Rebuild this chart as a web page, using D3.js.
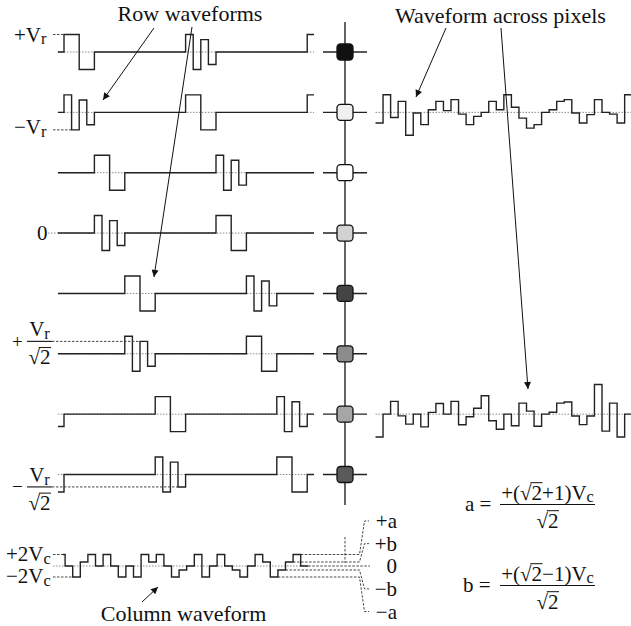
<!DOCTYPE html>
<html>
<head>
<meta charset="utf-8">
<script src="https://cdn.jsdelivr.net/npm/d3@7"></script>
<style>
  body { margin: 0; background: #fff; }
  svg, svg text, svg tspan { font-family: "Liberation Serif", "Times New Roman", Times, "DejaVu Serif", serif; }
  svg text { fill: #111; }
</style>
</head>
<body>
<div id="chart-area"></div>
<script>
/* data */
const h = 0.71; // Vr / sqrt(2)

// row drive levels (units of Vr): tail of previous frame, 32 sub-slots, first sub-slot of next frame
const rowWaves = [
  [0,  1, 1, -1, -1,  0, 0, 0, 0,  0, 0, 0, 0,  0, 0, 0, 0,  1, -1, h, -h,  0, 0, 0, 0,  0, 0, 0, 0,  0, 0, 0, 0,  1],
  [0,  1, -1, h, -h,  0, 0, 0, 0,  0, 0, 0, 0,  0, 0, 0, 0,  1, 1, -1, -1,  0, 0, 0, 0,  0, 0, 0, 0,  0, 0, 0, 0,  1],
  [0,  0, 0, 0, 0,  1, 1, -1, -1,  0, 0, 0, 0,  0, 0, 0, 0,  0, 0, 0, 0,  1, -1, h, -h,  0, 0, 0, 0,  0, 0, 0, 0,  0],
  [0,  0, 0, 0, 0,  1, -1, h, -h,  0, 0, 0, 0,  0, 0, 0, 0,  0, 0, 0, 0,  1, 1, -1, -1,  0, 0, 0, 0,  0, 0, 0, 0,  0],
  [0,  0, 0, 0, 0,  0, 0, 0, 0,  1, 1, -1, -1,  0, 0, 0, 0,  0, 0, 0, 0,  0, 0, 0, 0,  1, -1, h, -h,  0, 0, 0, 0,  0],
  [0,  0, 0, 0, 0,  0, 0, 0, 0,  1, -1, h, -h,  0, 0, 0, 0,  0, 0, 0, 0,  0, 0, 0, 0,  1, 1, -1, -1,  0, 0, 0, 0,  0],
  [-h, 0, 0, 0, 0,  0, 0, 0, 0,  0, 0, 0, 0,  1, 1, -1, -1,  0, 0, 0, 0,  0, 0, 0, 0,  0, 0, 0, 0,  1, -1, h, -h,  0],
  [-1, 0, 0, 0, 0,  0, 0, 0, 0,  0, 0, 0, 0,  1, -1, h, -h,  0, 0, 0, 0,  0, 0, 0, 0,  0, 0, 0, 0,  1, 1, -1, -1,  0]
];

// grey level of each pixel on the column
const pixelShades = ["#111111", "#f0f0f0", "#ffffff", "#d2d2d2", "#444444", "#8c8c8c", "#a6a6a6", "#5a5a5a"];

// waveform across pixels, one value per sub-slot (units of Vr)
const acrossTop = [-0.61, 1.01, -0.29, 0.63, -1.31, -0.04, -0.70, 0.15, 0.63, 0.10, 0.73, -0.10, -0.70, -0.23, 0, 0.63, 0.15,
  1.01, 0.29, -0.33, -0.90, -0.70, 0, 0.15, 0.63, 0.73, -0.04, -0.61, -0.13, 0.73, 0, -0.10, -0.61, 1.01];
const acrossBottom = [-1.31, 0, 0.73, -0.10, -0.57, 0, -0.73, 0.10, 0.61, 0, 0.73, -0.61, -0.15, 0.34, 1.05, -0.38, -0.86,
  0, -0.66, 0.63, 0.17, -0.69, 0, 0.11, 0.63, 0.69, -0.11, -0.60, -0.11, 1.69, -0.97, 0.63, -1.31, 0];

// column waveform (units of Vc)
const A = 1.707, B = 0.293;
const colSteps = [A, 0, -A, B, A, 0, A, 0, -A, 0, -A, A, B, A, 0, -A, -B,
  0, A, -A, 0, A, 0, -B, -A, 0, A, B, -A, -B, B, A, 0];
const colLevels = [A, B, 0, -B, -A];
const colLabels = ["+a", "+b", "0", "\u2212b", "\u2212a"];

/* layout */
const width = 631, height = 626;
const FONT = '"Liberation Serif", "Times New Roman", Times, "DejaVu Serif", serif';
const ROW_X0 = -0.8, ROW_X1 = 32.9;
const COL_X = 345;
const COL_START = 63;
const DOT = "1.5 1.5", DASH = "2.5 1.5";

const svg = d3.select("#chart-area").append("svg")
    .attr("width", width)
    .attr("height", height)
    .attr("font-family", FONT)
    .style("font-family", FONT);

svg.append("defs").append("marker")
    .attr("id", "arrow")
    .attr("viewBox", "0 0 10 10")
    .attr("refX", 10).attr("refY", 5)
    .attr("markerWidth", 10).attr("markerHeight", 7)
    .attr("markerUnits", "userSpaceOnUse")
    .attr("orient", "auto")
    .append("path")
    .attr("d", "M0,0 L10,5 L0,10 z")
    .attr("fill", "#111");

// scales
const xRow = d3.scaleLinear().domain([0, 32]).range([64, 307.2]);
const yRow = d3.scaleLinear().domain([0, 7]).range([52, 474.5]);
const vRow = d3.scaleLinear().domain([-1, 1]).range([17.5, -17.5]);
const xAcross = d3.scaleLinear().domain([0, 34]).range([375.5, 632.2]);
const xCol = d3.scaleLinear().domain([0, 33]).range([57.5, 308.3]);
const COL_Y = 566;
const vCol = d3.scaleLinear().domain([-A, -B, 0, B, A]).range([11, 4, 0, -4, -11.5]);
const yLabel = d3.scalePoint().domain(colLabels).range([521, 611.5]);

const step = d3.line().x(d => d[0]).y(d => d[1]).curve(d3.curveStepAfter);

function dotted(x1, x2, y) {
    svg.append("line")
        .attr("x1", x1).attr("x2", x2).attr("y1", y).attr("y2", y)
        .attr("stroke", "#8a8a8a").attr("stroke-width", 1)
        .attr("stroke-dasharray", DOT);
}

function dashed(pts) {
    svg.append("path")
        .attr("d", d3.line()(pts))
        .attr("fill", "none")
        .attr("stroke", "#333").attr("stroke-width", 0.9)
        .attr("stroke-dasharray", DASH);
}

function wave(pts) {
    svg.append("path")
        .attr("d", step(pts))
        .attr("fill", "none")
        .attr("stroke", "#222").attr("stroke-width", 1.4);
}

// text with subscripts and radicals
function mtext(x, y, segs, size, anchor) {
    const t = svg.append("text")
        .attr("x", x).attr("y", y)
        .attr("font-family", FONT)
        .attr("font-size", size)
        .attr("text-anchor", anchor || "start");
    let shifted = false, pos = 0;
    const rads = [];
    segs.forEach(s => {
        const sp = t.append("tspan").text(s.t);
        if (s.sub) {
            sp.attr("font-size", size * 0.78).attr("dy", size * 0.14);
            shifted = true;
        } else if (shifted) {
            sp.attr("dy", -size * 0.14);
            shifted = false;
        }
        if (s.rad) rads.push(pos);
        pos += s.t.length;
    });
    const node = t.node();
    rads.forEach(i => {
        const r = node.getExtentOfChar(i);
        const d = node.getExtentOfChar(i + 1);
        svg.append("line")
            .attr("x1", r.x + r.width - 1.2).attr("x2", d.x + d.width + 0.5)
            .attr("y1", y - size * 0.8).attr("y2", y - size * 0.8)
            .attr("stroke", "#111").attr("stroke-width", 1);
    });
    return t;
}

// fraction: bar from x1 to x2 at y
function fraction(x1, x2, y, num, den, size) {
    svg.append("line")
        .attr("x1", x1).attr("x2", x2).attr("y1", y).attr("y2", y)
        .attr("stroke", "#111").attr("stroke-width", 1.1);
    mtext((x1 + x2) / 2, y - 5, num, size, "middle");
    mtext((x1 + x2) / 2, y + 23, den, size, "middle");
}

function title(x, y, s) {
    svg.append("text").attr("x", x).attr("y", y)
        .attr("font-family", FONT).attr("font-size", 22)
        .attr("text-anchor", "middle").text(s);
}

/* row waveforms */
rowWaves.forEach((w, i) => {
    const y0 = yRow(i);
    dotted(xRow(ROW_X0), xRow(ROW_X1), y0);
    const pts = w.map((v, k) => [xRow(k === 0 ? ROW_X0 : k - 1), y0 + vRow(v)]);
    pts.push([xRow(ROW_X1), y0 + vRow(w[w.length - 1])]);
    wave(pts);
});

/* pixel column */
svg.append("line")
    .attr("x1", COL_X).attr("x2", COL_X).attr("y1", 22).attr("y2", 505)
    .attr("stroke", "#222").attr("stroke-width", 1.4);
svg.append("line")
    .attr("x1", COL_X).attr("x2", COL_X).attr("y1", 537).attr("y2", 563)
    .attr("stroke", "#333").attr("stroke-width", 0.9).attr("stroke-dasharray", DASH);

pixelShades.forEach((c, i) => {
    const y0 = yRow(i);
    svg.append("line")
        .attr("x1", 323).attr("x2", 367).attr("y1", y0).attr("y2", y0)
        .attr("stroke", "#222").attr("stroke-width", 1.4);
    svg.append("rect")
        .attr("x", COL_X - 8).attr("y", y0 - 8)
        .attr("width", 16).attr("height", 16)
        .attr("rx", 3.5)
        .attr("fill", c)
        .attr("stroke", "#111").attr("stroke-width", 1.3);
});

/* waveforms across pixels */
[[1, acrossTop], [6, acrossBottom]].forEach(([row, w]) => {
    const y0 = yRow(row);
    dotted(xAcross(0), width, y0);
    const pts = w.map((v, k) => [xAcross(k), y0 + vRow(v)]);
    pts.push([xAcross(w.length), y0 + vRow(w[w.length - 1])]);
    wave(pts);
});

/* column waveform */
dotted(COL_START - 10, xCol(33), COL_Y);
colLevels.forEach((lv, j) => {
    const last = colSteps.lastIndexOf(lv);
    const xs = lv === 0 ? xCol(33) : xCol(last + 1);
    const yl = yLabel(colLabels[j]);
    if (lv === 0) {
        dashed([[xs, COL_Y], [370, COL_Y]]);
    } else {
        dashed([[xs, COL_Y + vCol(lv)], [359.5, COL_Y + vCol(lv)], [364.5, yl], [369, yl]]);
    }
    mtext(397, yl + 7, [{ t: colLabels[j] }], 21, "end");
});
{
    const pts = colSteps.map((v, k) => [k === 0 ? COL_START : xCol(k), COL_Y + vCol(v)]);
    pts.push([xCol(colSteps.length), COL_Y + vCol(colSteps[colSteps.length - 1])]);
    wave(pts);
}

/* left labels */
mtext(14, 41.5, [{ t: "+V" }, { t: "r", sub: true }], 21);
dashed([[53, yRow(0) + vRow(1)], [xRow(0), yRow(0) + vRow(1)]]);
mtext(14, 134, [{ t: "\u2212V" }, { t: "r", sub: true }], 21);
dashed([[53, yRow(1) + vRow(-1)], [xRow(1), yRow(1) + vRow(-1)]]);

mtext(37, 240, [{ t: "0" }], 21);
dotted(48, xRow(ROW_X0), yRow(3));

{
    const yb = yRow(5) + vRow(h);
    mtext(12, yb + 6.5, [{ t: "+" }], 19);
    fraction(27, 52, yb, [{ t: "V" }, { t: "r", sub: true }], [{ t: "\u221a2", rad: true }], 21);
    dashed([[52, yb], [xRow(10), yb]]);
}
{
    const yb = yRow(7) + vRow(-h);
    mtext(12, yb + 6.5, [{ t: "\u2212" }], 19);
    fraction(27, 52, yb, [{ t: "V" }, { t: "r", sub: true }], [{ t: "\u221a2", rad: true }], 21);
    dashed([[52, yb], [xRow(15), yb]]);
}

mtext(6, 561, [{ t: "+2V" }, { t: "c", sub: true }], 21);
dashed([[53, COL_Y + vCol(A)], [COL_START, COL_Y + vCol(A)]]);
mtext(6, 583, [{ t: "\u22122V" }, { t: "c", sub: true }], 21);
dashed([[53, COL_Y + vCol(-A)], [xCol(2), COL_Y + vCol(-A)]]);

/* equations */
mtext(465, 510.5, [{ t: "a = " }], 21);
fraction(500, 595, 504.5,
    [{ t: "+(" }, { t: "\u221a2", rad: true }, { t: "+1)V" }, { t: "c", sub: true }],
    [{ t: "\u221a2", rad: true }], 21);
mtext(463, 591.5, [{ t: "b = " }], 21);
fraction(500, 595, 585.5,
    [{ t: "+(" }, { t: "\u221a2", rad: true }, { t: "\u22121)V" }, { t: "c", sub: true }],
    [{ t: "\u221a2", rad: true }], 21);

/* titles and arrows */
title(190, 21, "Row waveforms");
title(500.5, 22.5, "Waveform across pixels");
title(183.5, 621, "Column waveform");

const arrows = [
    [154, 28, 103, 100],
    [192, 27, 154, 277],
    [446, 28, 416, 97],
    [501, 28, 528, 389],
    [142, 602, 158, 587]
];
arrows.forEach(a => {
    svg.append("line")
        .attr("x1", a[0]).attr("y1", a[1]).attr("x2", a[2]).attr("y2", a[3])
        .attr("stroke", "#111").attr("stroke-width", 1)
        .attr("marker-end", "url(#arrow)");
});
</script>
</body>
</html>
